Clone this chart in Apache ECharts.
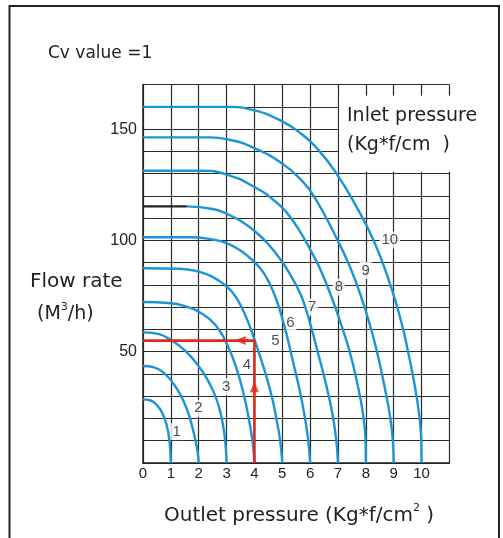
<!DOCTYPE html>
<html>
<head>
<meta charset="utf-8">
<script src="https://cdn.jsdelivr.net/npm/echarts@6/dist/echarts.min.js"></script>
<style>
  html, body { margin: 0; padding: 0; background: #fff; }
  #main { width: 503px; height: 538px; }
</style>
</head>
<body>
<div id="main"></div>
<script>
// flow rate curves for Cv = 1, one per inlet pressure, points are [outlet pressure, flow rate]
var curve1 = [[0, 28.6], [0.25, 28.2], [0.5, 26], [0.7, 22.3], [0.85, 17], [0.95, 10], [1, 0]];
var curve2 = [[0, 43.6], [0.4, 43], [0.8, 39.8], [1.1, 35.5], [1.35, 30.5], [1.55, 25], [1.72, 18.5], [1.86, 11.5], [1.96, 5], [2, 0]];
var curve3 = [[0, 58.7], [0.5, 58.1], [1, 55.3], [1.5, 50.6], [2, 43.5], [2.3, 37.8], [2.55, 31.5], [2.73, 25], [2.86, 18], [2.95, 10], [3, 0]];
var curve4 = [[0, 72.3], [1, 71.8], [1.5, 70.5], [2, 68], [2.4, 64.5], [2.75, 59.5], [3.05, 52.5], [3.3, 44.5], [3.5, 36.5], [3.67, 28], [3.81, 19], [3.93, 10], [4, 0]];
var curve5 = [[0, 87.5], [1.3, 87.3], [2, 86], [2.5, 83.6], [3, 79.3], [3.25, 76], [3.5, 71], [3.8, 62.5], [4, 55.5], [4.2, 48], [4.45, 38], [4.65, 28.5], [4.81, 18.5], [4.93, 9.5], [5, 0]];
var curve6 = [[0, 101.4], [1.7, 101.4], [2.5, 100.4], [3, 98.8], [3.5, 95.5], [4, 90.3], [4.3, 86], [4.55, 80.5], [4.8, 73], [5, 65], [5.17, 57], [5.33, 48.5], [5.5, 39.5], [5.67, 30], [5.81, 20.5], [5.93, 10.5], [6, 0]];
var curve7 = [[1.57, 115.3], [2.5, 114.1], [3, 112], [3.5, 108.8], [4, 104.3], [4.5, 98.3], [5, 90.3], [5.3, 84.3], [5.65, 76], [5.85, 69], [6.05, 60.5], [6.27, 50], [6.48, 40], [6.67, 30], [6.83, 20], [6.94, 10], [7, 0]];
var curve8 = [[0, 131.3], [2.1, 131.3], [3, 129.6], [4, 124], [4.75, 117.5], [5.29, 110.5], [6, 96], [6.6, 80], [7.2, 59], [7.42, 50], [7.62, 40], [7.79, 30], [7.92, 20], [7.99, 10], [8, 0]];
var curve9 = [[0, 146.3], [2.4, 146.3], [3, 145.5], [4, 141.5], [5, 134.5], [5.65, 127.5], [6.13, 120], [6.97, 100.5], [7.45, 87.5], [7.85, 74], [8.17, 61], [8.39, 50.5], [8.57, 40.5], [8.74, 30], [8.88, 20], [8.97, 10], [9, 0]];
var curve10 = [[0, 160], [3, 160], [4, 158.4], [5, 153.5], [5.65, 148.2], [6.34, 140], [7, 129], [7.6, 116.5], [8.28, 100], [8.88, 80], [9.3, 62], [9.5, 51], [9.67, 40.5], [9.82, 30], [9.93, 20], [9.99, 10], [10, 0]];
// the flat start of curve 7 is printed black in the original
var curve7Stub = [[0, 115.3], [1.57, 115.3]];

var curveLabels = ['1', '2', '3', '4', '5', '6', '7', '8', '9', '10'];
var labelX = [1.21, 1.99, 2.99, 3.73, 4.75, 5.29, 6.07, 7.03, 7.99, 8.86];
var labelY = [14.1, 24.6, 34.3, 44, 55, 63, 70, 79, 86.5, 100.2];

// worked example: outlet 4 -> inlet curve 5 -> flow rate
var examplePath = [[4, 0], [4, 55], [0, 55]];
var arrowUp = [[4, 34.3]];
var arrowLeft = [[3.49, 55]];

var yTicks = [50, 100, 150];
var xTicks = [0, 1, 2, 3, 4, 5, 6, 7, 8, 9, 10];

var curves = [curve1, curve2, curve3, curve4, curve5, curve6, curve7, curve8, curve9, curve10];

var blue = '#1b94d8';
var red = '#e2271d';
var ink = '#222';

var myChart = echarts.init(document.getElementById('main'));

var series = [];
curves.forEach(function (c, i) {
  series.push({
    name: 'P1=' + curveLabels[i],
    type: 'line',
    data: c,
    smooth: 0.5,
    symbol: 'none',
    silent: true,
    z: 3,
    lineStyle: { color: blue, width: 2.4 }
  });
});
series.push({
  type: 'line',
  data: curve7Stub,
  symbol: 'none',
  silent: true,
  z: 3,
  lineStyle: { color: ink, width: 2.2 }
});
series.push({
  type: 'scatter',
  data: labelX.map(function (x, i) { return [x, labelY[i], curveLabels[i]]; }),
  symbolSize: 1,
  itemStyle: { color: 'rgba(0,0,0,0)' },
  silent: true,
  z: 2,
  label: {
    show: true,
    position: 'inside',
    formatter: function (p) { return p.value[2]; },
    color: ink,
    fontFamily: 'Liberation Sans',
    fontSize: 15,
    backgroundColor: '#fff',
    padding: [1, 2]
  }
});
series.push({
  type: 'line',
  data: examplePath,
  symbol: 'none',
  silent: true,
  z: 5,
  lineStyle: { color: red, width: 2.6 }
});
series.push({
  type: 'scatter',
  data: arrowUp,
  symbol: 'triangle',
  symbolSize: [9, 11],
  itemStyle: { color: red },
  silent: true,
  z: 6
});
series.push({
  type: 'scatter',
  data: arrowLeft,
  symbol: 'triangle',
  symbolSize: [9, 11],
  symbolRotate: 90,
  itemStyle: { color: red },
  silent: true,
  z: 6
});

myChart.setOption({
  animation: false,
  backgroundColor: '#fff',
  grid: { left: 143, right: 53.6, top: 84.6, bottom: 75, containLabel: false },
  xAxis: {
    type: 'value',
    min: 0,
    max: 11,
    interval: 1,
    axisLine: { show: true, lineStyle: { color: ink, width: 1.5 } },
    axisTick: { show: false },
    splitLine: { show: true, lineStyle: { color: '#2a2a2a', width: 1.2 } },
    axisLabel: {
      margin: 3,
      color: ink,
      fontFamily: 'Liberation Sans',
      fontSize: 15,
      formatter: function (v) { return xTicks.indexOf(v) >= 0 ? String(v) : ''; }
    }
  },
  yAxis: {
    type: 'value',
    min: 0,
    max: 170,
    interval: 10,
    axisLine: { show: true, lineStyle: { color: ink, width: 1.5 } },
    axisTick: { show: false },
    splitLine: { show: true, lineStyle: { color: '#2a2a2a', width: 1.2 } },
    axisLabel: {
      margin: 6,
      color: ink,
      fontFamily: 'Liberation Sans',
      fontSize: 16,
      formatter: function (v) { return yTicks.indexOf(v) >= 0 ? String(v) : ''; }
    }
  },
  series: series
});

// white patch behind the "Inlet pressure" caption, placed from data coords
var boxA = myChart.convertToPixel({ gridIndex: 0 }, [7, 165]);
var boxB = myChart.convertToPixel({ gridIndex: 0 }, [11, 130.4]);

var wordFont = 'DejaVu Sans';

myChart.setOption({
  graphic: [
    {
      type: 'rect',
      z: 1,
      silent: true,
      shape: { x: boxA[0] + 1.2, y: boxA[1], width: boxB[0] - boxA[0] + 4, height: boxB[1] - boxA[1] - 1 },
      style: { fill: '#fff' }
    },
    {
      type: 'rect',
      z: 20,
      silent: true,
      shape: { x: 9.5, y: 6, width: 489.5, height: 560 },
      style: { fill: 'none', stroke: ink, lineWidth: 2 }
    },
    {
      type: 'text',
      z: 20,
      left: 48,
      top: 45,
      style: { text: 'Cv value =1', fill: ink, font: '17px "DejaVu Sans"' }
    },
    {
      type: 'text',
      z: 20,
      left: 347,
      top: 107,
      style: { text: 'Inlet pressure', fill: ink, font: '19px "DejaVu Sans"' }
    },
    {
      type: 'text',
      z: 20,
      left: 347,
      top: 136,
      style: { text: '(Kg*f/cm  )', fill: ink, font: '19px "DejaVu Sans"' }
    },
    {
      type: 'text',
      z: 20,
      left: 30,
      top: 272,
      style: { text: 'Flow rate', fill: ink, font: '20px "DejaVu Sans"' }
    },
    {
      type: 'text',
      z: 20,
      left: 37,
      top: 302,
      style: {
        text: '{m|(M}{s|3}{m|/h)}',
        rich: {
          m: { fontFamily: wordFont, fontSize: 19, lineHeight: 24, fill: ink },
          s: { fontFamily: wordFont, fontSize: 11, lineHeight: 11, verticalAlign: 'top', fill: ink }
        }
      }
    },
    {
      type: 'text',
      z: 20,
      left: 164,
      top: 503,
      style: {
        text: '{m|Outlet pressure (Kg*f/cm}{s|2}{m| )}',
        rich: {
          m: { fontFamily: wordFont, fontSize: 20, lineHeight: 25, fill: ink },
          s: { fontFamily: wordFont, fontSize: 11, lineHeight: 11, verticalAlign: 'top', fill: ink }
        }
      }
    }
  ]
});
</script>
</body>
</html>
